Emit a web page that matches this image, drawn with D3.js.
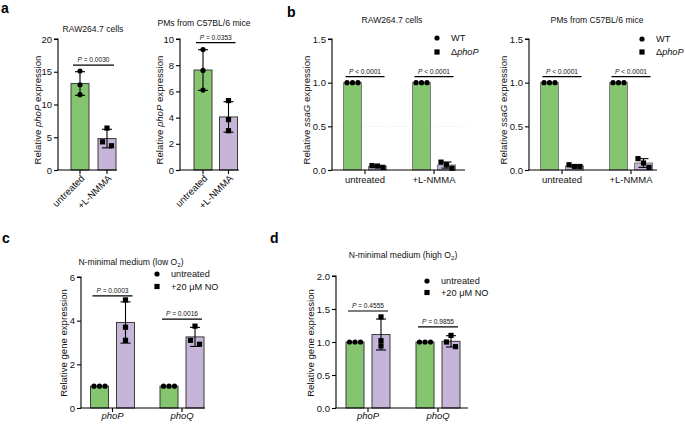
<!DOCTYPE html>
<html><head><meta charset="utf-8">
<script src="https://cdn.jsdelivr.net/npm/d3@7/dist/d3.min.js"></script>
<style>body{margin:0;background:#fff}svg{display:block;font-family:"Liberation Sans",Arial,sans-serif}</style>
</head><body><svg id="chart" width="685" height="424"></svg>
<script>
// ---------------- data ----------------
const aCategories = ["untreated", "+L-NMMA"];
const a1Values = [[15.1, 13.0, 11.5], [6.4, 4.3, 3.7]];
const a2Values = [[9.2, 7.6, 6.1], [5.3, 3.85, 3.0]];
const a1P = ["= 0.0030"];
const a2P = ["= 0.0353"];

const bGroups = ["untreated", "+L-NMMA"];
const bSeries = ["WT", "Δ<i>phoP</i>"];
const b1WT  = [[1, 1, 1], [1, 1, 1]];
const b1Mut = [[0.05, 0.045, 0.03], [0.09, 0.06, 0.02]];
const b2WT  = [[1, 1, 1], [1, 1, 1]];
const b2Mut = [[0.06, 0.04, 0.04], [0.13, 0.08, 0.03]];
const bP = ["< 0.0001", "< 0.0001"];

const cdGroups = ["<i>phoP</i>", "<i>phoQ</i>"];
const cdSeries = ["untreated", "+20 μM NO"];
const cUntreated = [[1, 1, 1], [1, 1, 1]];
const cNO = [[4.95, 3.7, 3.1], [3.75, 3.1, 2.92]];
const cP = ["= 0.0003", "= 0.0016"];
const dUntreated = [[1, 1, 1], [1, 1, 1]];
const dNO = [[1.38, 1.02, 0.94], [1.1, 1.0, 0.93]];
const dP = ["= 0.4555", "= 0.9855"];

const GREEN = "#86c56f", PURPLE = "#c6b5d9";

const svg = d3.select("#chart");

function rich(sel, str) {
  const parts = str.split(/(<i>.*?<\/i>|<sub>.*?<\/sub>)/).filter(s => s.length);
  let reset = 0;
  parts.forEach(p => {
    let t;
    if (p.startsWith("<i>")) t = sel.append("tspan").attr("font-style", "italic").text(p.slice(3, -4));
    else if (p.startsWith("<sub>")) { t = sel.append("tspan").attr("font-size", "0.72em").text(p.slice(5, -6)); t.attr("dy", 2.2 + reset); reset = -2.2; return; }
    else t = sel.append("tspan").text(p);
    if (reset) { t.attr("dy", reset); reset = 0; }
  });
  return sel;
}

function swarm(vals, y) {
  const idx = vals.map((v, i) => i).sort((a, b) => vals[b] - vals[a]);
  const off = new Array(vals.length).fill(0);
  let cl = [idx[0]];
  const flush = () => {
    const n = cl.length;
    const pat = n === 1 ? [0] : n === 2 ? [-4.5, 4.5] : [-5.5, 0, 5.5];
    cl.forEach((k, j) => off[k] = pat[j] || 0);
  };
  for (let j = 1; j < idx.length; j++) {
    if (Math.abs(y(vals[idx[j]]) - y(vals[idx[j - 1]])) < 5) cl.push(idx[j]);
    else { flush(); cl = [idx[j]]; }
  }
  flush();
  return off;
}

function marker(g, shape, x, y) {
  if (shape === "circle") g.append("circle").attr("cx", x).attr("cy", y).attr("r", 2.6).attr("fill", "#000");
  else g.append("rect").attr("x", x - 2.6).attr("y", y - 2.6).attr("width", 5.2).attr("height", 5.2).attr("fill", "#000");
}

function panel(cfg) {
  const g = svg.append("g");
  const y = d3.scaleLinear().domain(cfg.domain).range([cfg.yBottom, cfg.yTop]);
  const xg = d3.scalePoint().domain(cfg.groups).range(cfg.groupRange);
  const xs = d3.scalePoint().domain(cfg.series).range(cfg.seriesRange);
  const bw = 18;

  if (cfg.grid) cfg.grid.forEach(v => g.append("line").attr("x1", cfg.axisX).attr("x2", cfg.xEnd)
      .attr("y1", y(v)).attr("y2", y(v)).attr("stroke", "#dcdcdc").attr("stroke-width", 0.8).attr("stroke-dasharray", "1,2"));

  // bars
  cfg.data.forEach((ser, si) => {
    ser.forEach((pts, gi) => {
      if (!pts) return;
      const cx = xg(cfg.groups[gi]) + xs(cfg.series[si]);
      const m = d3.mean(pts), sd = d3.deviation(pts);
      const color = cfg.colorBy === "group" ? cfg.colors[gi] : cfg.colors[si];
      const shape = cfg.shapeBy === "group" ? cfg.shapes[gi] : cfg.shapes[si];
      g.append("rect").attr("x", cx - bw / 2).attr("y", y(m)).attr("width", bw).attr("height", y(0) - y(m))
        .attr("fill", color).attr("stroke", cfg.barStroke).attr("stroke-width", 1);
      if (sd > 1e-6) {
        const eg = g.append("g").attr("stroke", "#000").attr("stroke-width", 1.1);
        eg.append("line").attr("x1", cx).attr("x2", cx).attr("y1", y(m + sd)).attr("y2", y(m - sd));
        eg.append("line").attr("x1", cx - 5).attr("x2", cx + 5).attr("y1", y(m + sd)).attr("y2", y(m + sd));
        eg.append("line").attr("x1", cx - 5).attr("x2", cx + 5).attr("y1", y(m - sd)).attr("y2", y(m - sd));
      }
      const off = swarm(pts, y);
      pts.forEach((v, k) => marker(g, shape, cx + off[k], y(v)));
    });
  });

  // y axis
  const ya = g.append("g").attr("transform", `translate(${cfg.axisX},0)`)
    .call(d3.axisLeft(y).tickValues(cfg.ticks).tickFormat(cfg.fmt).tickSize(4).tickPadding(2));
  ya.select(".domain").attr("d", `M-4,${cfg.yTop}H0V${cfg.yBottom}`).attr("stroke-width", 1.1);
  ya.selectAll(".tick line").attr("stroke-width", 1.1);
  ya.selectAll("text").attr("font-size", 9.5).attr("fill", "#111").attr("font-family", "Liberation Sans, Arial, sans-serif");

  // x axis
  g.append("line").attr("x1", cfg.axisX - 0.5).attr("x2", cfg.xEnd).attr("y1", cfg.yBottom).attr("y2", cfg.yBottom)
    .attr("stroke", "#000").attr("stroke-width", 1.1);
  cfg.groups.forEach(gn => {
    const cx = xg(gn);
    g.append("line").attr("x1", cx).attr("x2", cx).attr("y1", cfg.yBottom).attr("y2", cfg.yBottom + 4)
      .attr("stroke", "#000").attr("stroke-width", 1.1);
    const t = g.append("text").attr("font-size", 9.5).attr("fill", "#111");
    if (cfg.rotate) t.attr("text-anchor", "end").attr("transform", `translate(${cx + 5},${cfg.yBottom + 9}) rotate(-45)`);
    else t.attr("text-anchor", "middle").attr("x", cx).attr("y", cfg.xLabelY);
    rich(t, gn);
  });

  // P brackets
  cfg.p.forEach((lab, gi) => {
    const gn = cfg.groups[gi];
    let x1, x2;
    if (cfg.pBetweenGroups) { x1 = xg(cfg.groups[0]) - bw / 2 + 2; x2 = xg(cfg.groups[1]) + bw / 2 - 2; }
    else { x1 = xg(gn) + xs(cfg.series[0]) - bw / 2 + 2; x2 = xg(gn) + xs(cfg.series[1]) + bw / 2 - 2; }
    const ly = y(cfg.pLevel[gi]);
    g.append("line").attr("x1", x1).attr("x2", x2).attr("y1", ly).attr("y2", ly).attr("stroke", "#000").attr("stroke-width", 1.2);
    const t = g.append("text").attr("x", (x1 + x2) / 2).attr("y", ly - 2.8).attr("text-anchor", "middle").attr("font-size", 6.6).attr("fill", "#111");
    rich(t, "<i>P</i> " + lab);
  });

  // title
  rich(g.append("text").attr("x", cfg.title[1]).attr("y", cfg.title[2]).attr("text-anchor", "middle")
    .attr("font-size", 8.6).attr("fill", "#111"), cfg.title[0]);
  // y label
  rich(g.append("text").attr("transform", `translate(${cfg.yLabel[1]},${cfg.yLabel[2]}) rotate(-90)`)
    .attr("text-anchor", "middle").attr("dominant-baseline", "central").attr("font-size", 9.6).attr("fill", "#111"), cfg.yLabel[0]);

  // legend
  if (cfg.legend) {
    const [lx, ly, sp] = cfg.legend;
    cfg.series.forEach((s, i) => {
      marker(g, cfg.shapes[i], lx, ly + i * sp);
      rich(g.append("text").attr("x", lx + 14).attr("y", ly + i * sp + 3.3).attr("font-size", 9.2).attr("fill", "#111"), s);
    });
  }
}

// panel a
panel({ axisX: 58, xEnd: 117, yTop: 39, yBottom: 170, domain: [0, 20], ticks: [0, 5, 10, 15, 20], fmt: d3.format("d"),
  groups: aCategories, groupRange: [80, 107], series: ["s"], seriesRange: [0, 0],
  data: [a1Values], colorBy: "group", colors: [GREEN, PURPLE], shapeBy: "group", shapes: ["circle", "square"],
  barStroke: "#3c3c3c", rotate: true, p: a1P, pBetweenGroups: true, pLevel: [16.0],
  title: ["RAW264.7 cells", 93, 32], yLabel: ["Relative <i>phoP</i> expression", 37, 110] });
panel({ axisX: 180, xEnd: 239, yTop: 39, yBottom: 170, domain: [0, 10], ticks: [0, 2, 4, 6, 8, 10], fmt: d3.format("d"),
  groups: aCategories, groupRange: [203, 228.5], series: ["s"], seriesRange: [0, 0],
  data: [a2Values], colorBy: "group", colors: [GREEN, PURPLE], shapeBy: "group", shapes: ["circle", "square"],
  barStroke: "#3c3c3c", rotate: true, p: a2P, pBetweenGroups: true, pLevel: [9.72],
  title: ["PMs from C57BL/6 mice", 204, 26], yLabel: ["Relative <i>phoP</i> expression", 159, 110] });

// panel b
panel({ axisX: 332, xEnd: 465, yTop: 39, yBottom: 170, domain: [0, 1.5], ticks: [0, 0.5, 1, 1.5], fmt: d3.format(".1f"),
  groups: bGroups, groupRange: [365, 434], series: bSeries, seriesRange: [-12.5, 12.5], grid: [0.5],
  data: [b1WT, b1Mut], colorBy: "series", colors: [GREEN, PURPLE], shapeBy: "series", shapes: ["circle", "square"],
  barStroke: "#7a7a7a", rotate: false, xLabelY: 183, p: bP, pLevel: [1.07, 1.07],
  title: ["RAW264.7 cells", 392, 23], yLabel: ["Relative <i>ssaG</i> expression", 305.5, 110], legend: [437, 38, 14] });
panel({ axisX: 529, xEnd: 657, yTop: 39, yBottom: 170, domain: [0, 1.5], ticks: [0, 0.5, 1, 1.5], fmt: d3.format(".1f"),
  groups: bGroups, groupRange: [562, 631], series: bSeries, seriesRange: [-12.5, 12.5],
  data: [b2WT, b2Mut], colorBy: "series", colors: [GREEN, PURPLE], shapeBy: "series", shapes: ["circle", "square"],
  barStroke: "#7a7a7a", rotate: false, xLabelY: 183, p: bP, pLevel: [1.07, 1.07],
  title: ["PMs from C57BL/6 mice", 597, 23], yLabel: ["Relative <i>ssaG</i> expression", 502.5, 110], legend: [642, 39, 13] });

// panel c
panel({ axisX: 81, xEnd: 205, yTop: 277, yBottom: 408, domain: [0, 6], ticks: [0, 2, 4, 6], fmt: d3.format("d"),
  groups: cdGroups, groupRange: [112.5, 182], series: cdSeries, seriesRange: [-13, 13],
  data: [cUntreated, cNO], colorBy: "series", colors: [GREEN, PURPLE], shapeBy: "series", shapes: ["circle", "square"],
  barStroke: "#3c3c3c", rotate: false, xLabelY: 419, p: cP, pLevel: [5.14, 4.07],
  title: ["N-minimal medium (low O<sub>2</sub>)", 131, 264.5], yLabel: ["Relative gene expression", 63, 343], legend: [157, 274, 12.5] });

// panel d
panel({ axisX: 336, xEnd: 468, yTop: 276, yBottom: 408, domain: [0, 2], ticks: [0, 0.5, 1, 1.5, 2], fmt: d3.format(".1f"),
  groups: cdGroups, groupRange: [368, 438], series: cdSeries, seriesRange: [-13, 13],
  data: [dUntreated, dNO], colorBy: "series", colors: [GREEN, PURPLE], shapeBy: "series", shapes: ["circle", "square"],
  barStroke: "#3c3c3c", rotate: false, xLabelY: 419, p: dP, pLevel: [1.47, 1.23],
  title: ["N-minimal medium (high O<sub>2</sub>)", 403, 258], yLabel: ["Relative gene expression", 309.5, 343], legend: [427, 281, 11.5] });

// panel letters
[["a", 1, 13], ["b", 287, 17], ["c", 2, 243], ["d", 270, 243]].forEach(([l, x, yy]) =>
  svg.append("text").attr("x", x).attr("y", yy).attr("font-size", 14).attr("font-weight", "bold").attr("fill", "#000").text(l));
</script></body></html>
